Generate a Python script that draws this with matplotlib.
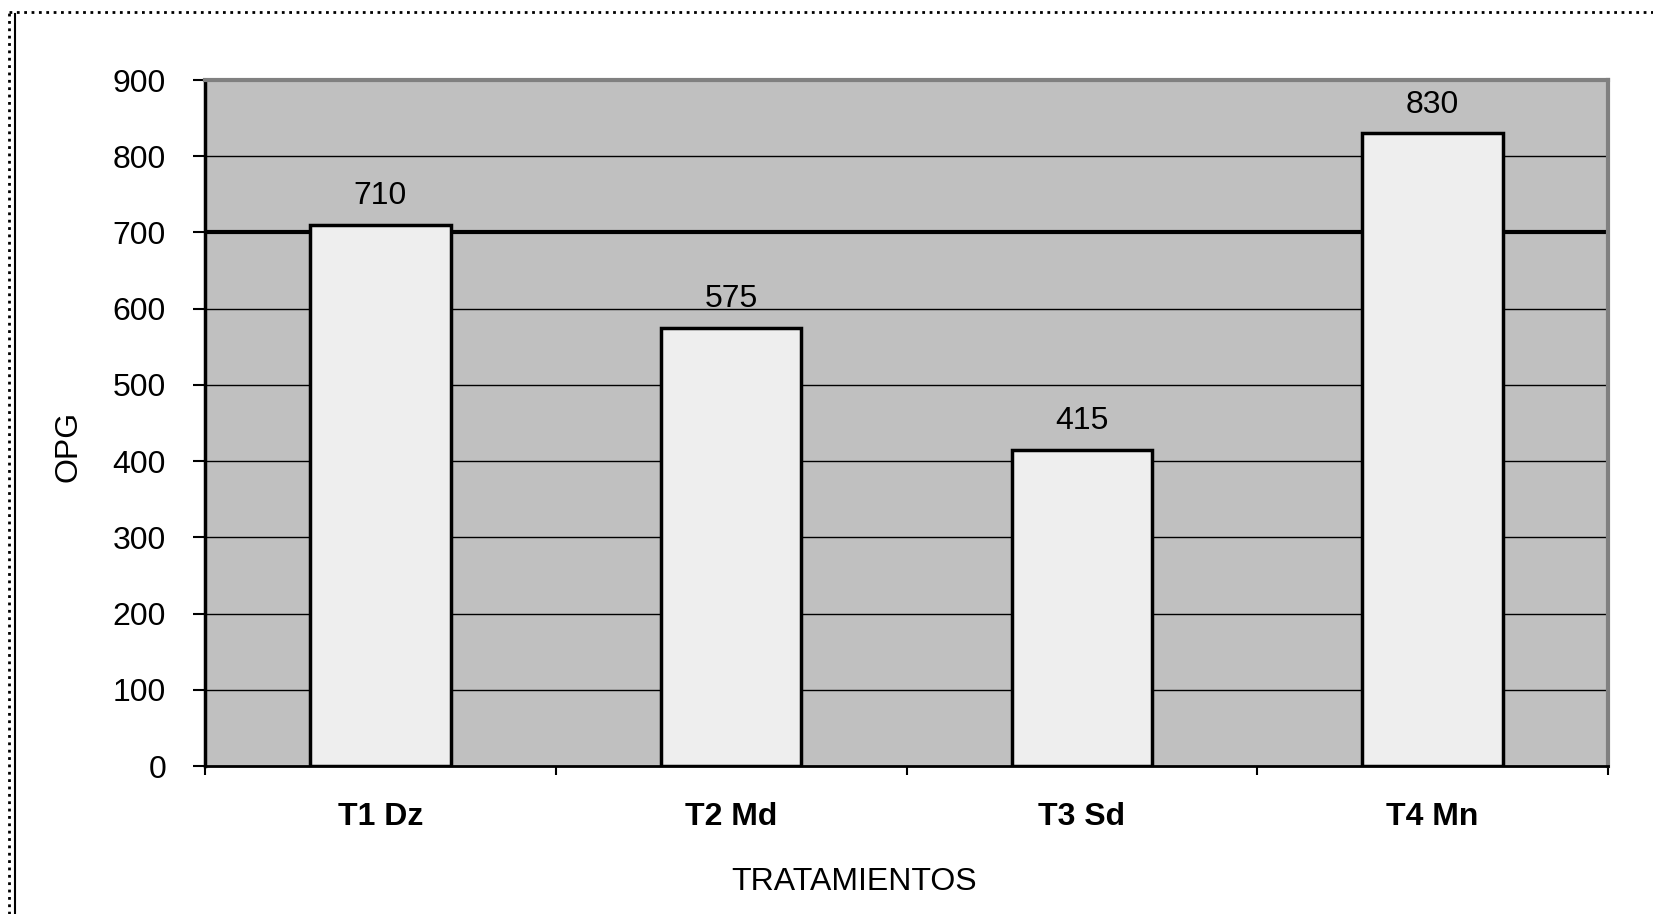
import matplotlib
matplotlib.use('Agg')
import matplotlib.pyplot as plt
from matplotlib.lines import Line2D
import numpy as np

# OPG per tratamiento
tratamientos = ['T1 Dz', 'T2 Md', 'T3 Sd', 'T4 Mn']
opg = [710, 575, 415, 830]
y_ticks = [0, 100, 200, 300, 400, 500, 600, 700, 800, 900]

plt.rcParams['font.family'] = ['Liberation Sans', 'DejaVu Sans']
FS = 23

W, H = 1653, 914
fig = plt.figure(figsize=(W / 100, H / 100), dpi=100)
ax = fig.add_axes([205 / W, 1 - 766 / H, (1608 - 205) / W, (766 - 80) / H])
ax.set_facecolor('#C0C0C0')

x = np.arange(len(tratamientos))
ax.bar(x, opg, width=0.4, color='#EEEEEE', edgecolor='black', linewidth=2.5, zorder=3)

# horizontal gridlines, the 700 level drawn heavier
for t in y_ticks[1:-1]:
    ax.axhline(t, color='black', linewidth=3.0 if t == 700 else 1.0, zorder=1)

for xi, v in zip(x, opg):
    ax.annotate(f'{v}', (xi, v), xytext=(0, 15), textcoords='offset points',
                ha='center', va='baseline', fontsize=FS)

ax.set_xlim(-0.5, len(tratamientos) - 0.5)
ax.set_ylim(0, 900)
ax.set_yticks(y_ticks)
ax.tick_params(axis='y', direction='out', length=9, width=1.5, pad=19, labelsize=FS)

# ticks between categories, labels centered under bars
ax.set_xticks(np.arange(-0.5, len(tratamientos), 1.0))
ax.set_xticklabels([])
ax.set_xticks(x, minor=True)
ax.set_xticklabels(tratamientos, minor=True, fontsize=FS, fontweight='bold')
ax.tick_params(axis='x', which='major', direction='out', length=6.5, width=1.5)
ax.tick_params(axis='x', which='minor', length=0, pad=26)

for side in ('top', 'right'):
    ax.spines[side].set_color('#808080')
    ax.spines[side].set_linewidth(3)
ax.spines['left'].set_linewidth(2.5)
ax.spines['bottom'].set_linewidth(2)

ax.set_ylabel('OPG', fontsize=FS)
ax.yaxis.set_label_coords((83 - 205) / 1403, (766 - 446) / 686)
ax.set_xlabel('TRATAMIENTOS', fontsize=FS)
ax.xaxis.set_label_coords((854 - 205) / 1403, (766 - 867) / 686)

# chart frame: dotted outline with a solid inner edge on the left
fig.add_artist(Line2D([9 / W, 9 / W], [0, 1 - 12 / H], transform=fig.transFigure,
                      color='black', linestyle=':', linewidth=2))
fig.add_artist(Line2D([9 / W, 1], [1 - 12 / H, 1 - 12 / H], transform=fig.transFigure,
                      color='black', linestyle=':', linewidth=2))
fig.add_artist(Line2D([15 / W, 15 / W], [0, 1 - 14 / H], transform=fig.transFigure,
                      color='black', linewidth=1.5))

fig.savefig('out.png', dpi=100)
